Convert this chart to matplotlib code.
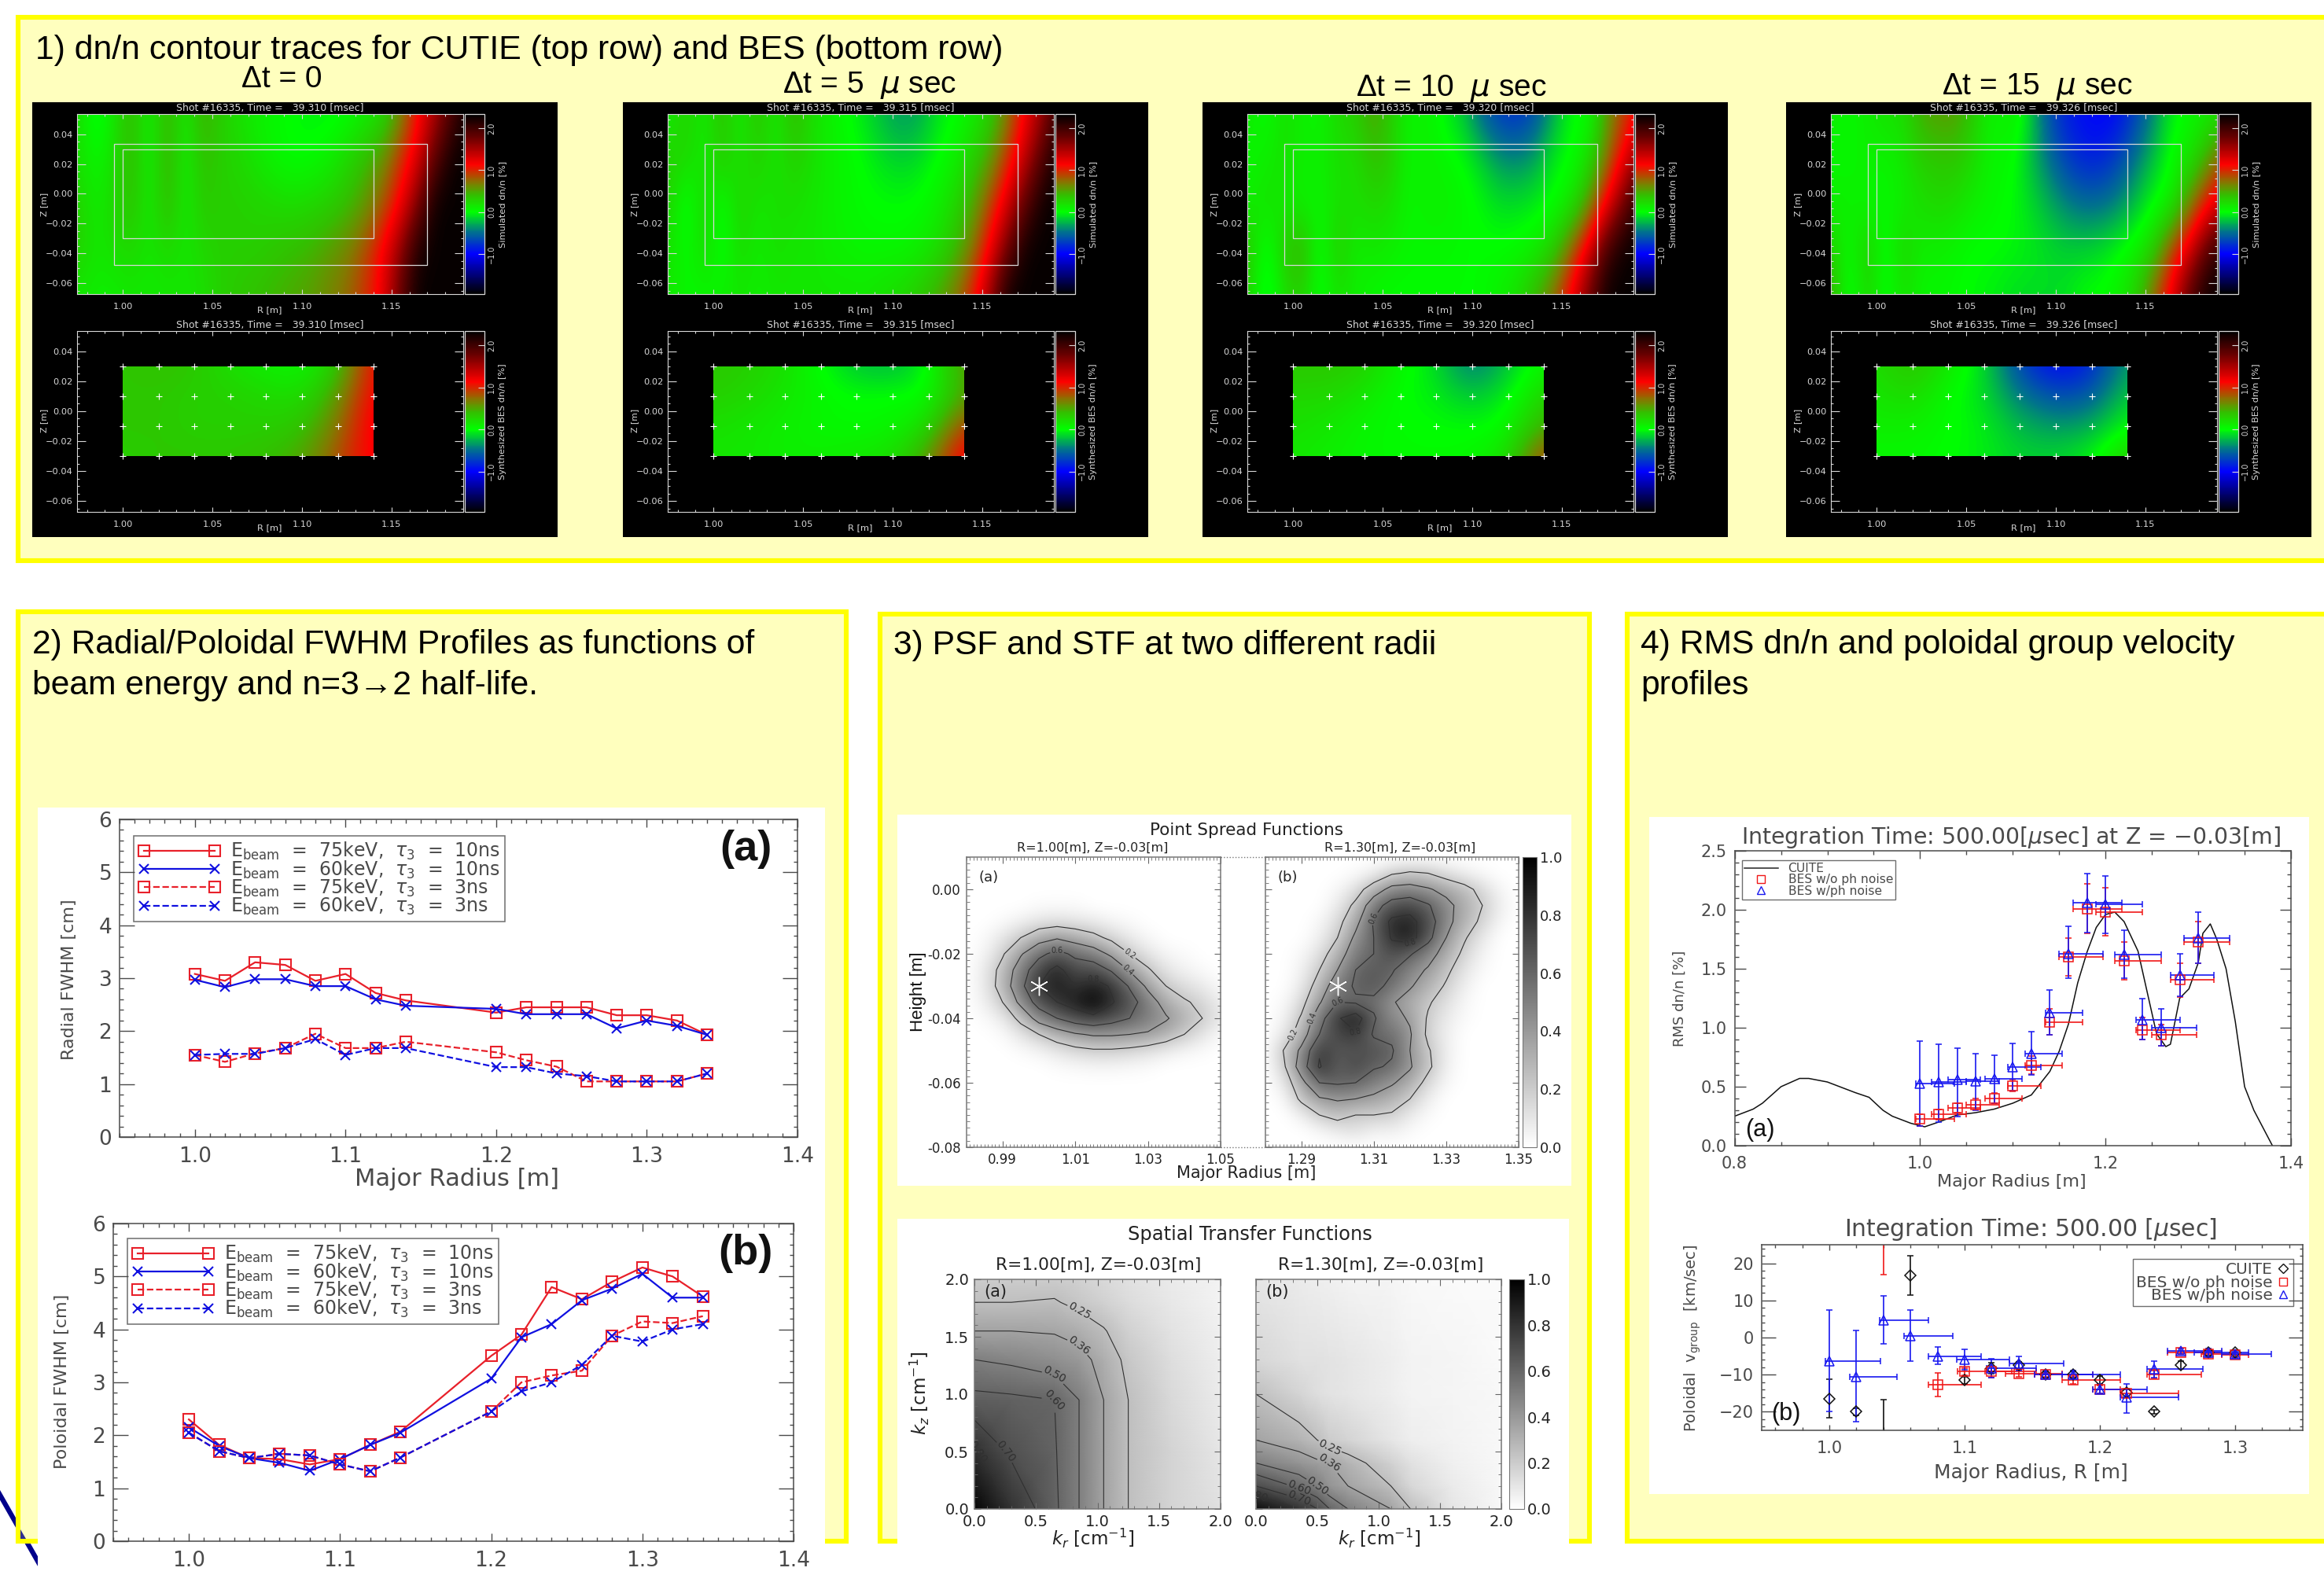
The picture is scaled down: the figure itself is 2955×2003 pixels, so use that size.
import numpy as np
import matplotlib
matplotlib.use('Agg')
import matplotlib.pyplot as plt
from matplotlib.patches import Rectangle, Polygon
from matplotlib.lines import Line2D
from matplotlib.colors import LinearSegmentedColormap, Normalize
from matplotlib.cm import ScalarMappable
from matplotlib.ticker import MultipleLocator, FormatStrFormatter

W, H = 2955, 2003
SANS = ['Liberation Sans', 'DejaVu Sans']
plt.rcParams['font.family'] = ['DejaVu Sans']
plt.rcParams['mathtext.fontset'] = 'dejavusans'

# ---------- text ----------
TITLE1 = "1) dn/n contour traces for CUTIE (top row) and BES (bottom row)"
TITLE2 = "2) Radial/Poloidal FWHM Profiles as functions of\nbeam energy and n=3\u21922 half-life."
TITLE3 = "3) PSF and STF at two different radii"
TITLE4 = "4) RMS dn/n and poloidal group velocity\nprofiles"
DT_LABELS = ["\u0394t = 0", "\u0394t = 5  $\\mu$ sec", "\u0394t = 10  $\\mu$ sec", "\u0394t = 15  $\\mu$ sec"]
TIMES = ["39.310", "39.315", "39.320", "39.326"]

# ---------- panel 1 fields (dn/n %), rows top to bottom, columns in R ----------
FIELD_R = [.975, .985, .995, 1.005, 1.015, 1.025, 1.035, 1.045, 1.055, 1.065, 1.075, 1.085,
           1.095, 1.105, 1.115, 1.125, 1.135, 1.145, 1.155, 1.165, 1.175, 1.185, 1.195]
FIELD_Z = [.0535, .0233, -.0069, -.0371, -.0673]
cutie1 = [[.25, -.1, .15, .45, .05, .5, .1, .5, .3, .2, .1, .05, 0, -.05, -.05, 0, .1, .2, .6, 1.1, 1.5, 2.0, 2.3],
          [.2, .05, .2, .45, .05, .5, .08, .4, .3, .25, .15, .05, 0, .02, .1, .25, .4, .6, .95, 1.3, 1.9, 2.3, 2.3],
          [.3, .1, .25, .4, .1, .45, .1, .35, .3, .3, .28, .25, .22, .25, .3, .4, .55, .8, 1.15, 1.7, 2.3, 2.3, 2.3],
          [.3, .15, .2, .25, .15, .25, .15, .25, .3, .3, .3, .35, .4, .45, .55, .65, .85, 1.15, 1.6, 2.2, 2.3, 2.3, 2.3],
          [.15, .1, .1, .15, .12, .15, .15, .2, .3, .35, .4, .45, .5, .55, .65, .75, .95, 1.2, 1.8, 2.3, 2.3, 2.3, 2.3]]
cutie2 = [[.1, .3, .1, .4, .1, .4, .1, .45, .2, .1, 0, -.1, -.25, -.35, -.3, -.1, 0, .1, .3, .7, 1.2, 1.6, 2.2],
          [.3, .25, .1, .35, .15, .3, .15, .3, .2, .1, .05, -.02, -.1, -.15, -.1, 0, .1, .3, .55, 1.0, 1.45, 2.0, 2.3],
          [.3, -.1, .3, -.05, .3, .15, .2, .2, .15, .1, .05, .02, 0, 0, .02, .1, .25, .5, .9, 1.35, 1.9, 2.3, 2.3],
          [.2, 0, .25, -.05, .25, .1, .2, .15, .15, .1, .08, .05, .05, .05, .1, .2, .4, .7, 1.2, 1.8, 2.3, 2.3, 2.3],
          [.15, .05, .05, .1, .15, .1, .15, .15, .15, .15, .15, .15, .2, .25, .35, .5, .7, 1.05, 1.6, 2.3, 2.3, 2.3, 2.3]]
cutie3 = [[.15, 0, .2, .1, .05, .25, .3, .55, .3, .05, .1, -.05, -.2, -.55, -.75, -.8, -.65, -.3, 0, 0, .55, .9, 1.2],
          [.05, .1, .2, .1, .1, .2, .2, .4, .3, .05, .1, .05, 0, -.15, -.35, -.4, -.3, -.05, 0, .2, .7, 1.25, 1.7],
          [.1, .2, .1, .1, .05, .2, .2, .25, .2, .05, .1, .1, .05, -.02, -.1, -.1, -.05, 0, .15, .55, 1.2, 1.8, 2.3],
          [.4, -.1, .35, .5, -.05, .35, .1, .15, .1, .05, .05, .05, .02, .02, .02, .05, .1, .3, .75, 1.3, 2.0, 2.3, 2.3],
          [.3, -.15, .2, .3, -.05, .2, .1, .05, .02, .02, .02, .02, .02, .02, .1, .2, .45, .75, 1.2, 1.75, 2.3, 2.3, 2.3]]
cutie4 = [[.1, .05, .1, .2, .2, .5, .55, .55, .3, .05, .15, -.1, -.6, -.85, -.95, -1.0, -.95, -.7, -.4, -.05, .05, .1, .2],
          [.05, .05, .1, .05, .15, .3, .35, .35, .2, .05, .05, -.2, -.45, -.7, -.85, -.85, -.7, -.45, -.2, .05, .15, .5, .9],
          [.1, .1, .05, .05, .1, .2, .25, .2, .1, .05, 0, -.1, -.25, -.4, -.5, -.5, -.4, -.2, 0, .1, .65, 1.1, 1.4],
          [.3, 0, .35, -.05, .3, .1, .1, .05, 0, 0, -.02, -.05, -.1, -.15, -.15, -.1, 0, .1, .3, .9, 1.3, 1.9, 2.2],
          [.5, -.1, .3, -.05, .2, .05, .05, .02, -.02, -.05, -.1, -.12, -.12, -.1, 0, .02, .1, .3, .8, 1.25, 1.9, 2.3, 2.3]]

BES_R = [1.00, 1.02, 1.04, 1.06, 1.08, 1.10, 1.12, 1.14]
BES_Z = [.03, .01, -.01, -.03]
bes1 = [[.35, .4, .35, .2, .1, .05, .3, 1.15],
        [.35, .35, .3, .3, .25, .2, .55, 1.2],
        [.35, .35, .3, .3, .3, .35, .7, 1.25],
        [.3, .35, .35, .35, .4, .5, .85, 1.2]]
bes2 = [[.35, .3, .2, 0, -.2, -.25, -.05, .6],
        [.3, .25, .15, .05, 0, .02, 0, .55],
        [.2, .15, .1, .05, .02, .05, .2, .95],
        [.15, .15, .1, .1, .15, .2, .55, 1.25]]
bes3 = [[.35, .35, .3, .05, -.1, -.5, -.2, .1],
        [.25, .25, .15, 0, -.05, -.2, -.05, .3],
        [.2, .15, .05, .02, 0, -.02, .02, .5],
        [.15, .1, .05, .03, .03, .05, .2, .95]]
bes4 = [[.2, .4, .15, -.1, -.7, -1.0, -.85, -.3],
        [.15, .25, .02, -.1, -.45, -.65, -.6, -.15],
        [.1, .1, .02, -.05, -.25, -.35, -.3, 0],
        [.05, .05, 0, -.05, -.15, -.15, -.05, .35]]

# ---------- panel 2 profiles ----------
R_fwhm = [1.00, 1.02, 1.04, 1.06, 1.08, 1.10, 1.12, 1.14, 1.20, 1.22, 1.24, 1.26, 1.28, 1.30, 1.32, 1.34]
rad_75_10 = [3.08, 2.95, 3.3, 3.25, 2.95, 3.08, 2.72, 2.58, 2.35, 2.45, 2.45, 2.45, 2.3, 2.3, 2.2, 1.93]
rad_60_10 = [2.97, 2.83, 2.98, 2.98, 2.85, 2.85, 2.6, 2.48, 2.42, 2.32, 2.32, 2.32, 2.05, 2.2, 2.1, 1.93]
rad_75_3 = [1.55, 1.42, 1.58, 1.68, 1.95, 1.68, 1.68, 1.8, 1.6, 1.45, 1.33, 1.05, 1.05, 1.05, 1.05, 1.2]
rad_60_3 = [1.55, 1.57, 1.57, 1.68, 1.85, 1.55, 1.68, 1.68, 1.32, 1.32, 1.2, 1.15, 1.05, 1.05, 1.05, 1.2]
pol_75_10 = [2.3, 1.82, 1.57, 1.55, 1.45, 1.55, 1.82, 2.07, 3.5, 3.9, 4.8, 4.57, 4.9, 5.17, 5.0, 4.62]
pol_60_10 = [2.15, 1.8, 1.57, 1.48, 1.33, 1.55, 1.82, 2.05, 3.07, 3.85, 4.1, 4.55, 4.77, 5.05, 4.6, 4.6]
pol_75_3 = [2.05, 1.7, 1.57, 1.65, 1.62, 1.45, 1.32, 1.58, 2.45, 3.0, 3.13, 3.22, 3.88, 4.15, 4.12, 4.25]
pol_60_3 = [2.05, 1.7, 1.57, 1.65, 1.62, 1.45, 1.32, 1.58, 2.45, 2.83, 3.0, 3.33, 3.88, 3.77, 4.0, 4.1]
FWHM_LABELS = [r'E$_{\rm beam}$  =  75keV,  $\tau_3$  =  10ns',
               r'E$_{\rm beam}$  =  60keV,  $\tau_3$  =  10ns',
               r'E$_{\rm beam}$  =  75keV,  $\tau_3$  =  3ns',
               r'E$_{\rm beam}$  =  60keV,  $\tau_3$  =  3ns']

# ---------- panel 3 PSF / STF ----------
PSF_Z = [.01, .005, 0, -.005, -.01, -.015, -.02, -.025, -.03, -.035, -.04, -.045, -.05, -.055, -.06, -.065, -.07, -.075, -.08]
PSF_R_A = [.98, .985, .99, .995, 1.0, 1.005, 1.01, 1.015, 1.02, 1.025, 1.03, 1.035, 1.04, 1.045, 1.05]
PSF_R_B = [1.28, 1.285, 1.29, 1.295, 1.30, 1.305, 1.31, 1.315, 1.32, 1.325, 1.33, 1.335, 1.34, 1.345, 1.35]
psf_a = [[0] * 15, [0] * 15, [0] * 15,
         [0, 0, 0, 0, .02, .02, .02, 0, 0, 0, 0, 0, 0, 0, 0],
         [0, 0, .02, .06, .1, .12, .1, .08, .04, .02, 0, 0, 0, 0, 0],
         [0, .02, .1, .2, .32, .38, .32, .25, .16, .08, .03, 0, 0, 0, 0],
         [0, .04, .18, .38, .55, .66, .56, .5, .36, .2, .1, .04, .02, 0, 0],
         [0, .08, .26, .5, .72, .85, .7, .7, .58, .38, .22, .1, .05, .02, 0],
         [0, .08, .28, .55, .8, .88, .8, .88, .78, .58, .36, .2, .13, .08, .02],
         [0, .06, .2, .45, .68, .8, .88, .98, .82, .68, .5, .32, .22, .16, .06],
         [0, .02, .08, .25, .48, .6, .7, .75, .68, .6, .5, .42, .3, .2, .08],
         [0, 0, .02, .1, .2, .3, .38, .42, .42, .4, .38, .3, .2, .1, .02],
         [0, 0, 0, .02, .05, .1, .15, .18, .18, .16, .12, .08, .04, .02, 0],
         [0, 0, 0, 0, 0, .02, .03, .04, .04, .03, .02, 0, 0, 0, 0],
         [0] * 15, [0] * 15, [0] * 15, [0] * 15, [0] * 15]
psf_b = [[0] * 15,
         [0, 0, 0, 0, 0, .02, .06, .18, .22, .2, .12, .06, .02, 0, 0],
         [0, 0, 0, 0, .03, .12, .3, .46, .48, .42, .34, .26, .14, .03, 0],
         [0, 0, 0, 0, .08, .24, .52, .68, .72, .62, .46, .32, .2, .06, 0],
         [0, 0, 0, .03, .14, .34, .62, .84, .86, .7, .46, .3, .16, .03, 0],
         [0, 0, 0, .06, .2, .44, .6, .82, .88, .66, .4, .22, .08, 0, 0],
         [0, 0, .03, .12, .3, .52, .6, .7, .62, .48, .32, .16, .04, 0, 0],
         [0, 0, .05, .2, .4, .6, .65, .62, .48, .38, .24, .1, .02, 0, 0],
         [0, 0, .08, .28, .52, .62, .66, .55, .42, .3, .18, .06, 0, 0, 0],
         [0, .02, .14, .38, .6, .58, .56, .42, .32, .22, .12, .03, 0, 0, 0],
         [0, .04, .22, .52, .78, .9, .62, .46, .38, .18, .08, .02, 0, 0, 0],
         [0, .08, .3, .6, .72, .78, .58, .56, .42, .16, .06, 0, 0, 0, 0],
         [0, .2, .44, .78, .66, .68, .68, .62, .4, .22, .06, 0, 0, 0, 0],
         [0, .16, .5, .82, .62, .72, .62, .58, .42, .24, .05, 0, 0, 0, 0],
         [0, .08, .34, .6, .62, .6, .5, .42, .32, .14, .03, 0, 0, 0, 0],
         [0, .02, .24, .38, .42, .4, .36, .3, .2, .06, 0, 0, 0, 0, 0],
         [0, 0, .06, .2, .26, .2, .2, .18, .08, .02, 0, 0, 0, 0, 0],
         [0, 0, 0, .03, .08, .12, .05, .06, .02, 0, 0, 0, 0, 0, 0],
         [0] * 15]
PSF_MARK = [(1.00, -0.03), (1.30, -0.03)]

STF_KR_A = [0, .3, .65, .85, 1.05, 1.25, 1.6, 2.0]
STF_KZ_A = [0, .5, .95, 1.3, 1.55, 1.8, 2.0]
stf_a = [[.98, .8, .62, .5, .36, .25, .17, .12],
         [.81, .68, .61, .5, .36, .25, .17, .1],
         [.63, .62, .6, .5, .36, .25, .15, .08],
         [.5, .48, .44, .4, .32, .22, .13, .07],
         [.36, .36, .35, .32, .26, .18, .11, .06],
         [.25, .25, .26, .22, .18, .14, .09, .05],
         [.2, .2, .2, .18, .15, .12, .08, .05]]
STF_KR_B = [0, .35, .5, .6, .75, 1.1, 1.26, 1.6, 2.0]
STF_KZ_B = [0, .2, .4, .6, 1.0, 1.3, 2.0]
stf_b = [[.95, .8, .7, .6, .5, .36, .25, .1, .03],
         [.7, .58, .5, .42, .36, .25, .16, .08, .03],
         [.5, .42, .38, .36, .3, .18, .12, .06, .03],
         [.36, .3, .25, .2, .17, .1, .07, .05, .03],
         [.25, .17, .13, .11, .1, .07, .05, .04, .03],
         [.16, .12, .12, .11, .1, .07, .05, .04, .02],
         [.1, .08, .07, .06, .05, .04, .03, .02, .02]]

# ---------- panel 4 ----------
cuite_R = [.8, .82, .83, .85, .87, .88, .9, .93, .945, .96, .97, .99, 1.0, 1.005, 1.02, 1.04, 1.06, 1.08, 1.1, 1.12,
           1.14, 1.15, 1.16, 1.17, 1.18, 1.19, 1.20, 1.21, 1.22, 1.235, 1.245, 1.255, 1.265, 1.27, 1.28, 1.29, 1.30,
           1.305, 1.313, 1.32, 1.33, 1.34, 1.35, 1.36, 1.37, 1.38]
cuite_rms = [.25, .31, .36, .5, .57, .57, .54, .45, .41, .3, .25, .19, .17, .16, .2, .26, .28, .31, .36, .43,
             .63, .8, 1.03, 1.38, 1.64, 1.85, 1.96, 1.98, 1.9, 1.65, 1.3, .95, .84, .86, 1.25, 1.33, 1.55,
             1.8, 1.88, 1.75, 1.5, 1.05, .5, .3, .15, 0]
R_bes = [1.00, 1.02, 1.04, 1.06, 1.08, 1.10, 1.12, 1.14, 1.16, 1.18, 1.20, 1.22, 1.24, 1.26, 1.28, 1.30]
rms_xlo = [.995, 1.012, 1.03, 1.05, 1.07, 1.095, 1.113, 1.135, 1.15, 1.165, 1.19, 1.21, 1.233, 1.25, 1.27, 1.285]
rms_xhi = [1.037, 1.05, 1.065, 1.085, 1.11, 1.13, 1.153, 1.175, 1.197, 1.218, 1.24, 1.26, 1.28, 1.298, 1.317, 1.334]
rms_red = [.23, .27, .32, .35, .40, .51, .68, 1.05, 1.60, 2.01, 1.98, 1.57, .98, .94, 1.41, 1.73]
rms_red_top = [.27, .31, .36, .4, .45, .56, .76, 1.16, 1.76, 2.22, 2.19, 1.73, 1.09, 1.03, 1.55, 1.90]
rms_red_bot = [.17, .22, .28, .31, .36, .46, .61, .94, 1.44, 1.80, 1.78, 1.41, .9, .85, 1.26, 1.55]
rms_blue = [.53, .54, .56, .55, .57, .67, .78, 1.13, 1.63, 2.06, 2.05, 1.62, 1.07, 1.0, 1.45, 1.76]
rms_blue_top = [.89, .86, .83, .78, .77, .87, .97, 1.32, 1.86, 2.31, 2.29, 1.83, 1.25, 1.16, 1.63, 1.98]
rms_blue_bot = [.17, .2, .25, .3, .36, .47, .6, .94, 1.42, 1.81, 1.80, 1.42, .9, .85, 1.27, 1.55]

vc_R = [1.00, 1.02, 1.04, 1.06, 1.10, 1.12, 1.14, 1.16, 1.18, 1.20, 1.22, 1.24, 1.26, 1.28, 1.30]
vc = [-16.5, -20, -30, 16.7, -11.5, -8.2, -7.5, -10, -10, -11.5, -14.8, -20, -7.4, -4, -4]
vc_top = [-11.3, -19, -16.7, 22, -10.5, -6.7, -6.5, -9.2, -9.2, -10.3, -13.8, -19.5, -6.4, -3.2, -3.3]
vc_bot = [-21.7, -21, -43, 11.5, -12.5, -9.7, -8.5, -10.8, -10.8, -12.7, -15.8, -20.5, -8.4, -4.8, -4.7]
vr_R = [1.04, 1.08, 1.10, 1.12, 1.14, 1.16, 1.18, 1.20, 1.22, 1.24, 1.26, 1.28, 1.30]
vr = [30, -12.7, -9.2, -9.2, -9.8, -10, -11.5, -14, -15, -10, -4, -4.5, -4.7]
vr_top = [43, -9.6, -8.2, -7.7, -9, -9.5, -10.5, -13, -14, -9, -3.5, -3.7, -4]
vr_bot = [17, -15.8, -10.2, -10.7, -10.6, -10.5, -12.5, -15, -16, -11, -4.5, -5.3, -5.4]
vr_xlo = [1.03, 1.073, 1.095, 1.115, 1.13, 1.152, 1.172, 1.195, 1.215, 1.235, 1.25, 1.275, 1.29]
vr_xhi = [1.05, 1.112, 1.135, 1.153, 1.172, 1.195, 1.215, 1.215, 1.258, 1.275, 1.29, 1.30, 1.31]
vb_R = R_bes
vb = [-6.3, -10.5, 4.7, .5, -5, -6, -8.2, -7, -10, -10, -14, -16, -8.5, -3.7, -4, -4.5]
vb_top = [7.5, 2, 11.3, 7.5, -2.5, -3.2, -5.8, -5, -9, -9, -12.5, -12.5, -6.3, -3, -3, -3.5]
vb_bot = [-20, -22.7, -1.6, -6.3, -7.2, -8.7, -10.8, -9, -11, -11, -15, -20.3, -10.8, -4.5, -5, -5.5]
vb_xlo = [.997, 1.015, 1.037, 1.055, 1.073, 1.094, 1.116, 1.133, 1.152, 1.172, 1.195, 1.215, 1.235, 1.25, 1.27, 1.29]
vb_xhi = [1.038, 1.05, 1.073, 1.091, 1.112, 1.133, 1.153, 1.173, 1.195, 1.215, 1.235, 1.258, 1.276, 1.29, 1.31, 1.327]

# ---------- colours ----------
PANEL = '#FFFFBE'
BORDER = '#FFFF00'
GREY = '#4a4a4a'
cmap_idl = LinearSegmentedColormap.from_list('idl', [
    (0.0, (0, 0, 0)), (0.223, (0, 0, 1)), (0.345, (0, .45, .55)), (0.456, (0, 1, 0)),
    (0.55, (.2, .75, 0)), (0.62, (.52, .47, 0)), (0.72, (1, 0, 0)), (0.86, (.45, 0, 0)), (1.0, (0, 0, 0))])
norm_idl = Normalize(-1.96, 2.34)

fig = plt.figure(figsize=(W / 100, H / 100), dpi=100, facecolor='white')


def ax_px(x0, y0, x1, y1, **kw):
    return fig.add_axes([x0 / W, 1 - y1 / H, (x1 - x0) / W, (y1 - y0) / H], **kw)


def txt(x, y, s, **kw):
    kw.setdefault('ha', 'center')
    kw.setdefault('va', 'center')
    return fig.text(x / W, 1 - y / H, s, **kw)


def rect_px(x0, y0, x1, y1, zorder=-5, **kw):
    r = Rectangle((x0 / W, 1 - y1 / H), (x1 - x0) / W, (y1 - y0) / H, transform=fig.transFigure, zorder=zorder, **kw)
    fig.add_artist(r)
    return r


def line_px(xs, ys, zorder=-6, **kw):
    fig.add_artist(Line2D([x / W for x in xs], [1 - y / H for y in ys], transform=fig.transFigure, zorder=zorder, **kw))


# diagonal slash under the panels
line_px([-3, 50], [1896, 1989], color='#00008B', lw=4.5, zorder=-7)

# yellow panels
for x0, y0, x1, y1 in [(23, 22, 2975, 713), (23, 778, 1076, 1960), (1119, 781, 2021, 1960), (2069, 781, 2975, 1960)]:
    rect_px(x0, y0, x1, y1, facecolor=PANEL, edgecolor=BORDER, lw=4.4)
fig.add_artist(Polygon([(26 / W, 1 - 1945 / H), (33 / W, 1 - 1957 / H), (26 / W, 1 - 1957 / H)],
                       transform=fig.transFigure, facecolor='#30308F', edgecolor='none', zorder=-4))

# white backing boxes
rect_px(48, 1027, 1049, 2003, facecolor='white', edgecolor='none', zorder=-3)
rect_px(1141, 1036, 1998, 1508, facecolor='white', edgecolor='none', zorder=-3)
rect_px(1141, 1550, 1995, 2003, facecolor='white', edgecolor='none', zorder=-3)
rect_px(2097, 1039, 2936, 1900, facecolor='white', edgecolor='none', zorder=-3)

# headings
txt(45, 64, TITLE1, ha='left', family=SANS, fontsize=30.8)
txt(41, 846, TITLE2, ha='left', family=SANS, fontsize=30.7, linespacing=1.38)
txt(1136, 821, TITLE3, ha='left', family=SANS, fontsize=30.7)
txt(2086, 846, TITLE4, ha='left', family=SANS, fontsize=30.7, linespacing=1.38)

# ---------- panel 1 ----------
BLACK_X = [41, 792, 1529, 2271]
DT_X = [358, 1106, 1845, 2590]
DT_Y = [101, 108, 112, 110]
WHITE = '#d8d8d8'


def style_black(ax, ylabel_x):
    ax.set_facecolor('black')
    ax.set_xlim(.9745, 1.19)
    ax.set_ylim(-.0673, .0535)
    ax.xaxis.set_major_locator(MultipleLocator(.05))
    ax.xaxis.set_minor_locator(MultipleLocator(.01))
    ax.yaxis.set_major_locator(MultipleLocator(.02))
    ax.yaxis.set_minor_locator(MultipleLocator(.005))
    ax.xaxis.set_major_formatter(FormatStrFormatter('%.2f'))
    ax.yaxis.set_major_formatter(lambda v, p: ('%.2f' % v).replace('-', '\u2212'))
    ax.tick_params(which='major', axis='x', direction='in', top=True, bottom=True, color=WHITE, length=4, width=.8,
                   labelcolor=WHITE, labelsize=8.2, pad=8)
    ax.tick_params(which='major', axis='y', direction='in', left=True, right=True, color=WHITE, length=8, width=.8,
                   labelcolor=WHITE, labelsize=8.2, pad=4)
    ax.tick_params(which='minor', direction='in', top=True, bottom=True, left=True, right=True, color=WHITE,
                   length=2.5, width=.8)
    for s in ax.spines.values():
        s.set_color(WHITE)
        s.set_linewidth(.8)


def black_cbar(x0, y0, y1, label):
    cax = ax_px(x0 + 493, y0, x0 + 518, y1)
    cb = fig.colorbar(ScalarMappable(norm_idl, cmap_idl), cax=cax)
    cb.set_ticks([-1, 0, 1, 2])
    cb.ax.yaxis.set_major_formatter(lambda v, p: ('%.1f' % v).replace('-', '\u2212'))
    cb.ax.yaxis.set_minor_locator(MultipleLocator(.2))
    cb.ax.tick_params(which='major', direction='in', color=WHITE, labelcolor=WHITE, labelsize=7, length=6, pad=3,
                      labelrotation=90)
    cb.ax.tick_params(which='minor', length=0)
    for t in cb.ax.get_yticklabels():
        t.set_va('center')
    cb.outline.set_edgecolor(WHITE)
    cb.outline.set_linewidth(.9)
    txt(x0 + 541, (y0 + y1) / 2, label, rotation=90, color=WHITE, fontsize=8.2)


cut_sets = [cutie1, cutie2, cutie3, cutie4]
bes_sets = [bes1, bes2, bes3, bes4]
for i, bx in enumerate(BLACK_X):
    rect_px(bx, 130, bx + 668, 683, facecolor='black', edgecolor='none', zorder=-2)
    txt(DT_X[i], DT_Y[i], DT_LABELS[i], family=SANS, fontsize=28)
    x0 = bx + 57
    # CUTIE
    ax = ax_px(x0, 145, x0 + 491, 374)
    dr = FIELD_R[1] - FIELD_R[0]
    dz = FIELD_Z[0] - FIELD_Z[1]
    ax.imshow(cut_sets[i], cmap=cmap_idl, norm=norm_idl, aspect='auto', origin='upper', interpolation='bicubic',
              interpolation_stage='data',
              extent=[FIELD_R[0] - dr / 2, FIELD_R[-1] + dr / 2, FIELD_Z[-1] - dz / 2, FIELD_Z[0] + dz / 2])
    style_black(ax, 0)
    ax.add_patch(Rectangle((1.0, -.03), .14, .06, fill=False, ec=WHITE, lw=.9))
    ax.add_patch(Rectangle((.995, -.048), .175, .0815, fill=False, ec=WHITE, lw=.9))
    txt(x0 + 245, 137, 'Shot #16335, Time =   %s [msec]' % TIMES[i], color=WHITE, fontsize=9)
    txt(x0 + 245, 394, 'R [m]', color=WHITE, fontsize=8.2)
    txt(bx + 15, 260, 'Z [m]', color=WHITE, fontsize=7.8, rotation=90)
    black_cbar(x0, 145, 374, 'Simulated dn/n [%]')
    # BES
    ax = ax_px(x0, 421, x0 + 491, 651)
    dr = BES_R[1] - BES_R[0]
    dz = BES_Z[0] - BES_Z[1]
    im = ax.imshow(bes_sets[i], cmap=cmap_idl, norm=norm_idl, aspect='auto', origin='upper', interpolation='bicubic',
                   interpolation_stage='data',
                   extent=[BES_R[0] - dr / 2, BES_R[-1] + dr / 2, BES_Z[-1] - dz / 2, BES_Z[0] + dz / 2])
    style_black(ax, 0)
    im.set_clip_path(Rectangle((1.0, -.03), .14, .06, transform=ax.transData))
    rr, zz = np.meshgrid(BES_R, BES_Z)
    ax.plot(rr.ravel(), zz.ravel(), '+', color='white', ms=6, mew=.8, ls='none')
    txt(x0 + 245, 413, 'Shot #16335, Time =   %s [msec]' % TIMES[i], color=WHITE, fontsize=9)
    txt(x0 + 245, 671, 'R [m]', color=WHITE, fontsize=8.2)
    txt(bx + 15, 535, 'Z [m]', color=WHITE, fontsize=7.8, rotation=90)
    black_cbar(x0, 421, 651, 'Synthesized BES dn/n [%]')


# ---------- panel 2 ----------
def idl_axes(ax, xmaj, xmin, ymaj, ymin, lab, col=GREY, xlen=7, ylen=14):
    ax.set_facecolor('none')
    ax.xaxis.set_major_locator(MultipleLocator(xmaj))
    ax.xaxis.set_minor_locator(MultipleLocator(xmin))
    ax.yaxis.set_major_locator(MultipleLocator(ymaj))
    ax.yaxis.set_minor_locator(MultipleLocator(ymin))
    ax.tick_params(which='major', axis='x', direction='in', top=True, bottom=True, length=xlen, width=1, color=col,
                   labelcolor=col, labelsize=lab, pad=9)
    ax.tick_params(which='major', axis='y', direction='in', left=True, right=True, length=ylen, width=1, color=col,
                   labelcolor=col, labelsize=lab, pad=7)
    ax.tick_params(which='minor', direction='in', top=True, bottom=True, left=True, right=True, length=xlen * .55,
                   width=1, color=col)
    for s in ax.spines.values():
        s.set_color(col)
        s.set_linewidth(1.1)


def fwhm(ax, series, leg_xy, axbox):
    sty = [('#E8202A', '-', 's'), ('#1010E0', '-', 'x'), ('#E8202A', '--', 's'), ('#1010E0', '--', 'x')]
    handles = []
    for y, (c, ls, m), lb in zip(series, sty, FWHM_LABELS):
        h, = ax.plot(R_fwhm, y, color=c, ls=ls, lw=1.6, marker=m, ms=10 if m == 's' else 9, mfc='none', mec=c, mew=1.5,
                     label=lb)
        handles.append(h)
    ax.set_xlim(.95, 1.4)
    ax.set_ylim(0, 6)
    idl_axes(ax, .1, .01, 1, .2, 19)
    ax.xaxis.set_major_formatter(FormatStrFormatter('%.1f'))
    leg = ax.legend(handles=handles, numpoints=2, loc='upper left',
                    bbox_to_anchor=((leg_xy[0] - axbox[0]) / (axbox[2] - axbox[0]),
                                    1 - (leg_xy[1] - axbox[1]) / (axbox[3] - axbox[1])),
                    borderaxespad=0, fancybox=False, edgecolor=GREY, facecolor='none', framealpha=None,
                    prop={'size': 17}, labelspacing=-.16, handlelength=4.4, handletextpad=.55, borderpad=.25,
                    labelcolor=GREY)
    leg.get_frame().set_linewidth(1.1)


box_a = (152, 1042, 1014, 1446)
ax = ax_px(*box_a)
fwhm(ax, [rad_75_10, rad_60_10, rad_75_3, rad_60_3], (170, 1063), box_a)
txt(581, 1500, 'Major Radius [m]', color=GREY, fontsize=22)
txt(88, 1246, 'Radial FWHM [cm]', color=GREY, fontsize=16, rotation=90)
txt(948, 1080, '(a)', family=SANS, fontsize=39, color='#111111', weight='bold')
box_b = (144, 1556, 1009, 1960)
ax = ax_px(*box_b)
fwhm(ax, [pol_75_10, pol_60_10, pol_75_3, pol_60_3], (162, 1575), box_b)
txt(79, 1757, 'Poloidal FWHM [cm]', color=GREY, fontsize=16, rotation=90)
txt(948, 1594, '(b)', family=SANS, fontsize=39, color='#111111', weight='bold')

# ---------- panel 3 ----------
TXT3 = '#222222'


def gray_axes(ax, lab=12):
    for s in ax.spines.values():
        s.set_color('#777777')
        s.set_linewidth(1.1)
    ax.tick_params(which='major', direction='in', top=True, bottom=True, left=True, right=True, length=6, color='#666666',
                   labelcolor=TXT3, labelsize=lab, pad=5)
    ax.tick_params(which='minor', direction='in', top=True, bottom=True, left=True, right=True, length=3, color='#666666')


def psf(ax, Rs, data, xticks, mark, lab):
    d = PSF_Z[0] - PSF_Z[1]
    dr = Rs[1] - Rs[0]
    ax.imshow(data, cmap='gray_r', vmin=0, vmax=1, aspect='auto', origin='upper', interpolation='bicubic',
              interpolation_stage='data', extent=[Rs[0] - dr / 2, Rs[-1] + dr / 2, PSF_Z[-1] - d / 2, PSF_Z[0] + d / 2])
    cs = ax.contour(Rs, PSF_Z, data, levels=[.2, .4, .6, .8], colors='#303030', linewidths=.8)
    ax.clabel(cs, fmt='%.1f', fontsize=7, inline=True, inline_spacing=1)
    ax.plot([mark[0]], [mark[1]], marker=(6, 2, 0), ms=17, mew=1, color='white', ls='none')
    ax.set_xlim(Rs[0], Rs[-1])
    ax.set_ylim(-.08, .01)
    ax.set_xticks(xticks)
    ax.xaxis.set_minor_locator(MultipleLocator(.001))
    ax.yaxis.set_major_locator(MultipleLocator(.02))
    ax.yaxis.set_minor_locator(MultipleLocator(.002))
    ax.xaxis.set_major_formatter(FormatStrFormatter('%.2f'))
    gray_axes(ax)
    ax.text(.05, .93, lab, transform=ax.transAxes, fontsize=13, color=TXT3, va='center')


ax = ax_px(1228.5, 1090, 1552, 1459)
psf(ax, PSF_R_A, psf_a, [.99, 1.01, 1.03, 1.05], PSF_MARK[0], '(a)')
ax.set_yticks([0, -.02, -.04, -.06, -.08], ['0.00', '-0.02', '-0.04', '-0.06', '-0.08'])
ax = ax_px(1608.5, 1090, 1931, 1459)
psf(ax, PSF_R_B, psf_b, [1.29, 1.31, 1.33, 1.35], PSF_MARK[1], '(b)')
ax.set_yticks([0, -.02, -.04, -.06, -.08], [])
line_px([1552, 1608], [1090, 1090], color='#777777', lw=1, ls=':', zorder=2)
line_px([1552, 1608], [1459, 1459], color='#777777', lw=1, ls=':', zorder=2)
cax = ax_px(1936, 1090, 1954, 1459)
cb = fig.colorbar(ScalarMappable(Normalize(0, 1), 'gray_r'), cax=cax)
cb.set_ticks([0, .2, .4, .6, .8, 1])
cb.ax.tick_params(labelsize=13, labelcolor=TXT3, length=0, pad=3)
cb.outline.set_edgecolor('#777777')
txt(1585, 1056, 'Point Spread Functions', fontsize=15.5, color=TXT3)
txt(1389, 1078, 'R=1.00[m], Z=-0.03[m]', fontsize=11.5, color=TXT3)
txt(1780, 1078, 'R=1.30[m], Z=-0.03[m]', fontsize=11.5, color=TXT3)
txt(1585, 1492, 'Major Radius [m]', fontsize=15, color=TXT3)
txt(1167, 1261, 'Height [m]', family=SANS, fontsize=16, rotation=90, color='#111111')


def stf(ax, kr, kz, data, lab, ylab):
    ax.pcolormesh(kr, kz, data, cmap='gray_r', vmin=0, vmax=1, shading='gouraud')
    cs = ax.contour(kr, kz, data, levels=[.25, .36, .5, .6, .7, .8], colors='#303030', linewidths=.8)
    ax.clabel(cs, fmt='%.2f', fontsize=10, inline=True, inline_spacing=1)
    ax.set_xlim(0, 2)
    ax.set_ylim(0, 2)
    ax.xaxis.set_major_locator(MultipleLocator(.5))
    ax.xaxis.set_minor_locator(MultipleLocator(.1))
    ax.yaxis.set_major_locator(MultipleLocator(.5))
    ax.yaxis.set_minor_locator(MultipleLocator(.1))
    gray_axes(ax, 14)
    if not ylab:
        ax.set_yticklabels([])
    ax.text(.04, .945, lab, transform=ax.transAxes, fontsize=15, color=TXT3, va='center')


stf(ax_px(1239, 1627, 1552, 1919), STF_KR_A, STF_KZ_A, stf_a, '(a)', True)
stf(ax_px(1597, 1627, 1909, 1919), STF_KR_B, STF_KZ_B, stf_b, '(b)', False)
cax = ax_px(1918.5, 1627, 1938, 1919)
cb = fig.colorbar(ScalarMappable(Normalize(0, 1), 'gray_r'), cax=cax)
cb.set_ticks([0, .2, .4, .6, .8, 1])
cb.ax.tick_params(labelsize=14, labelcolor=TXT3, length=0, pad=3)
cb.outline.set_edgecolor('#777777')
txt(1589, 1570, 'Spatial Transfer Functions', fontsize=17.4, color=TXT3)
txt(1397, 1609, 'R=1.00[m], Z=-0.03[m]', fontsize=15.7, color=TXT3)
txt(1756, 1609, 'R=1.30[m], Z=-0.03[m]', fontsize=15.7, color=TXT3)
txt(1390, 1956, r'$k_r$ [cm$^{-1}$]', fontsize=16.5, color=TXT3)
txt(1754, 1956, r'$k_r$ [cm$^{-1}$]', fontsize=16.5, color=TXT3)
txt(1169, 1772, r'$k_z$ [cm$^{-1}$]', fontsize=16.5, color=TXT3, rotation=90)


# ---------- panel 4 ----------
def ebars(ax, x, y, top, bot, xlo, xhi, color, marker, ms, lw=1.2, cap=3):
    x, y, top, bot = map(np.asarray, (x, y, top, bot))
    if xlo is None:
        xerr = None
    else:
        xerr = [x - np.asarray(xlo), np.asarray(xhi) - x]
    return ax.errorbar(x, y, yerr=[y - bot, top - y], xerr=xerr, fmt=marker, color=color, mfc='none', mec=color,
                       ms=ms, mew=1.1, elinewidth=lw, capsize=cap, capthick=1.1, ls='none')


RED, BLUE = '#F01818', '#1818F0'
ax = ax_px(2205.6, 1082, 2913, 1457)
ax.plot(cuite_R, cuite_rms, color='#111111', lw=1.1)
ebars(ax, R_bes, rms_red, rms_red_top, rms_red_bot, rms_xlo, rms_xhi, RED, 's', 8)
ebars(ax, R_bes, rms_blue, rms_blue_top, rms_blue_bot, rms_xlo, rms_xhi, BLUE, '^', 8)
ax.set_xlim(.8, 1.4)
ax.set_ylim(0, 2.5)
idl_axes(ax, .2, .05, .5, .1, 15, xlen=7, ylen=10)
ax.xaxis.set_major_formatter(FormatStrFormatter('%.1f'))
ax.yaxis.set_major_formatter(FormatStrFormatter('%.1f'))
h = [Line2D([], [], color='#222222', lw=1.1), Line2D([], [], marker='s', mfc='none', mec=RED, ls='none', ms=7),
     Line2D([], [], marker='^', mfc='none', mec=BLUE, ls='none', ms=7)]
leg = ax.legend(h, ['CUITE', 'BES w/o ph noise', 'BES w/ph noise'], loc='upper left',
                bbox_to_anchor=((2214.5 - 2205.6) / 707.4, 1 - (1094 - 1082) / 375), borderaxespad=0, fancybox=False,
                edgecolor=GREY, facecolor='none', framealpha=None, prop={'size': 11.2}, labelspacing=-.05,
                handlelength=2.8, borderpad=.2, labelcolor=GREY, handletextpad=.8)
txt(2557, 1065, 'Integration Time: 500.00[$\\mu$sec] at Z = \u22120.03[m]', fontsize=20.4, color=GREY)
txt(2558, 1503, 'Major Radius [m]', fontsize=16, color=GREY)
txt(2136, 1270, 'RMS dn/n [%]', fontsize=13, color=GREY, rotation=90)
txt(2238, 1437, '(a)', family=SANS, fontsize=22, color='#111111')

ax = ax_px(2240, 1583, 2928, 1819)
ebars(ax, vc_R, vc, vc_top, vc_bot, None, None, '#111111', 'D', 7)
ebars(ax, vr_R, vr, vr_top, vr_bot, vr_xlo, vr_xhi, RED, 's', 9)
ebars(ax, vb_R, vb, vb_top, vb_bot, vb_xlo, vb_xhi, BLUE, '^', 9)
ax.set_xlim(.95, 1.35)
ax.set_ylim(-25, 25)
idl_axes(ax, .1, .02, 10, 2, 15, xlen=5, ylen=13)
ax.xaxis.set_major_formatter(FormatStrFormatter('%.1f'))
ax.yaxis.set_major_formatter(lambda v, p: ('%d' % v).replace('-', '\u2212'))
h = [Line2D([], [], marker='D', mfc='none', mec='#111111', ls='none', ms=6),
     Line2D([], [], marker='s', mfc='none', mec=RED, ls='none', ms=7),
     Line2D([], [], marker='^', mfc='none', mec=BLUE, ls='none', ms=7)]
leg = ax.legend(h, ['CUITE', 'BES w/o ph noise', 'BES w/ph noise'], loc='upper right', markerfirst=False,
                bbox_to_anchor=((2916 - 2240) / 688, 1 - (1601 - 1583) / 236), borderaxespad=0, fancybox=False,
                edgecolor=GREY, facecolor='none', framealpha=None, prop={'size': 14.5}, labelspacing=-.12,
                handlelength=.9, borderpad=.2, labelcolor=GREY, handletextpad=.2)
txt(2582, 1563, 'Integration Time: 500.00 [$\\mu$sec]', fontsize=21.5, color=GREY)
txt(2582, 1873, 'Major Radius, R [m]', fontsize=18, color=GREY)
txt(2152, 1702, 'Poloidal  v$_{\\rm group}$  [km/sec]', fontsize=14, color=GREY, rotation=90)
txt(2271, 1798, '(b)', family=SANS, fontsize=22, color='#111111')

fig.savefig('out.png', dpi=100, facecolor='white')
